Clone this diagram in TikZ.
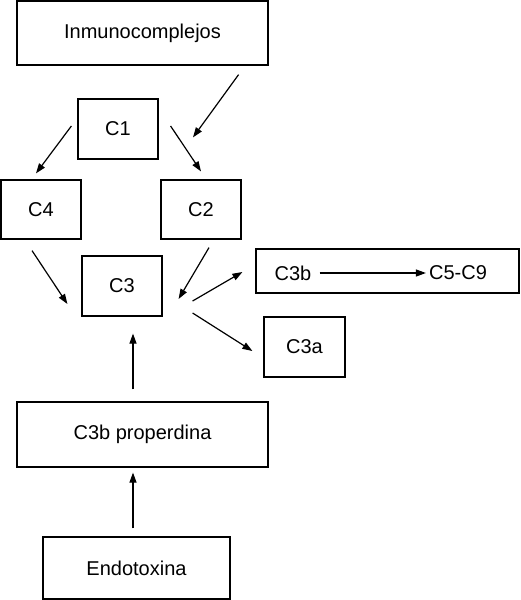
\documentclass[tikz,border=0pt]{standalone}
\usepackage{fontspec}
\setmainfont{Liberation Sans}
\usepackage{tikz}
\usetikzlibrary{arrows.meta,calc}
\tikzset{
  box/.style={draw, line width=1.2pt, inner sep=0pt, font=\fontsize{20}{24}\selectfont},
  txt/.style={inner sep=0pt, font=\fontsize{20}{24}\selectfont},
  arr/.style={-{Triangle[length=10pt,width=7pt]}, line width=1.2pt}
}

\begin{document}
\begin{tikzpicture}[x=1pt, y=-1pt]
\useasboundingbox (0,0) rectangle (520,600);
\node (inm) [box, minimum width=251, minimum height=64] at (142.5,33) {Inmunocomplejos};
\node (c1) [box, minimum width=80, minimum height=60] at (118,129) {C1};
\node (c4) [box, minimum width=80, minimum height=59] at (41,209.5) {C4};
\node (c2) [box, minimum width=80, minimum height=59] at (201,209.5) {C2};
\node (c3) [box, minimum width=80, minimum height=60] at (122,286) {C3};
\node (c3bbox) [box, minimum width=263, minimum height=44] at (387.5,271) {};
\node (c3b) [txt] at (293,273) {C3b};
\node (c59) [txt] at (458,273) {C5-C9};
\node (c3a) [box, minimum width=81, minimum height=60] at (304.5,347) {C3a};
\node (prop) [box, minimum width=251, minimum height=65] at (142.5,434.5) {C3b properdina};
\node (endo) [box, minimum width=187, minimum height=62] at (136.5,568) {Endotoxina};
\draw[arr] ($(inm.south east)+(-30,9)$) -- ($(c2.north)+(-8,-42)$);
\draw[arr] ($(c1.west)+(-6,-3)$) -- ($(c4.north)+(-5,-6)$);
\draw[arr] ($(c1.east)+(12,-3)$) -- ($(c2.north)+(0,-8)$);
\draw[arr] ($(c4.south)+(-9,11)$) -- ($(c3.west)+(-14,18)$);
\draw[arr] ($(c2.south)+(8,8)$) -- ($(c3.east)+(16,13)$);
\draw[arr] ($(c3.east)+(30,15)$) -- ($(c3bbox.west)+(-13,1)$);
\draw[arr] ($(c3.east)+(30,27)$) -- ($(c3a.west)+(-11,4)$);
\draw[arr] (c3b.east) ++(8,0) -- ($(c59.west)+(-3,0)$);
\draw[arr] ($(prop.north)+(-9.5,-12)$) -- ($(c3.south)+(11,17)$);
\draw[arr] ($(endo.north)+(-3.5,-8)$) -- ($(prop.south)+(-9.5,5)$);
\end{tikzpicture}
\end{document}
